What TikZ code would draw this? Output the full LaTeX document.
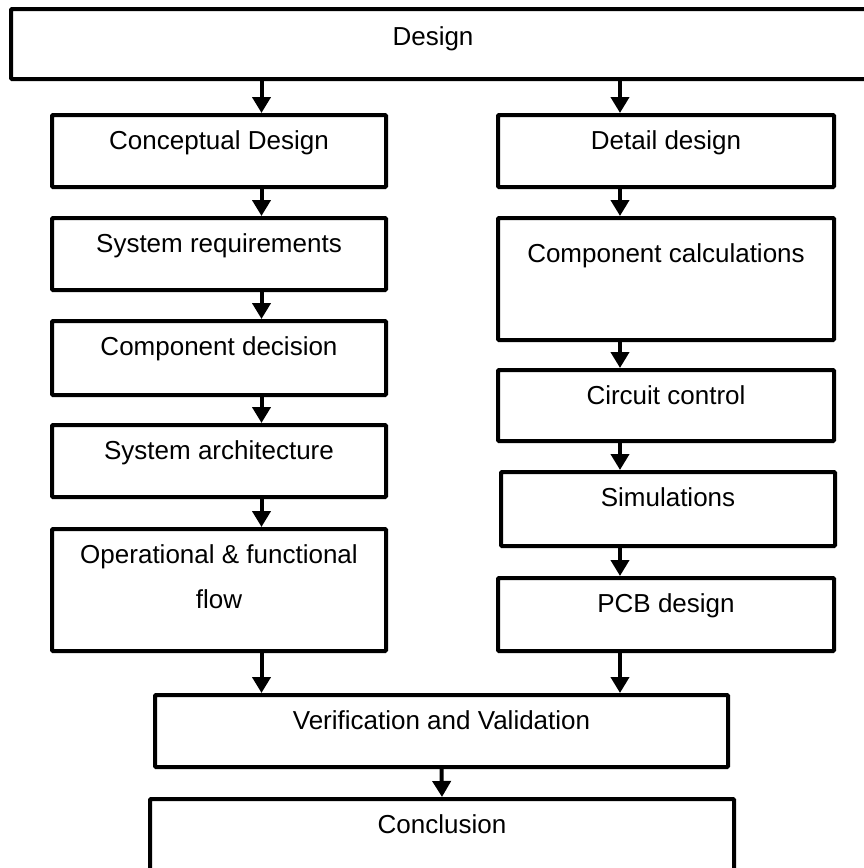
\documentclass[tikz,border=0pt]{standalone}
\usepackage{fontspec}
\setmainfont{Liberation Sans}
\usetikzlibrary{arrows.meta,calc}
\begin{document}
\begin{tikzpicture}[x=1pt,y=-1pt,
  box/.style={draw, line width=4pt, rounded corners=1pt, inner sep=0pt, minimum width=334pt, minimum height=72pt},
  lbl/.style={font=\fontsize{26}{45}\selectfont, anchor=base, inner sep=0pt, align=center},
  flow/.style={line width=4pt, -{Triangle[width=18pt,length=16pt]}},
]
\useasboundingbox (0,0) rectangle (864,868);
\clip (0,0) rectangle (864,868);
\fill[white] (0,0) rectangle (864,868);
\coordinate (xl) at (261.5,0);
\coordinate (xr) at (620,0);
% boxes
\node[box, minimum width=861pt, minimum height=70pt] (design) at (441.5,44) {};
\node[box] (concept) at (219,151) {};
\node[box] (sysreq) at (219,254) {};
\node[box, minimum height=74pt] (compdec) at (219,358) {};
\node[box] (sysarch) at (219,461) {};
\node[box, minimum height=122pt] (opflow) at (219,590) {};
\node[box, minimum width=336pt] (detail) at (666,151) {};
\node[box, minimum width=336pt, minimum height=122pt] (compcalc) at (666,279) {};
\node[box, minimum width=336pt, minimum height=71pt] (circuit) at (666,405.5) {};
\node[box, minimum height=74pt] (sim) at (668,509) {};
\node[box, minimum width=336pt, minimum height=73pt] (pcb) at (666,614.5) {};
\node[box, minimum width=573pt] (verif) at (441.5,731) {};
\node[box, minimum width=584pt, minimum height=91pt] (concl) at (442,844.5) {};
% labels
\node[lbl] (tdesign) at (433,45.5) {Design};
\node[lbl] (tconcept) at ([yshift=-36.5pt]concept.north) {Conceptual Design};
\node[lbl] (tsysreq) at ([yshift=-36.5pt]sysreq.north) {System requirements};
\node[lbl] (tcompdec) at ([yshift=-36.5pt]compdec.north) {Component decision};
\node[lbl] (tsysarch) at ([yshift=-36.5pt]sysarch.north) {System architecture};
\node[lbl] (topflow) at ([yshift=-81.5pt]opflow.north) {Operational \& functional\\flow};
\node[lbl] (tdetail) at ([yshift=-36.5pt]detail.north) {Detail design};
\node[lbl] (tcompcalc) at ([yshift=-46.5pt]compcalc.north) {Component calculations};
\node[lbl] (tcircuit) at ([yshift=-36.5pt]circuit.north) {Circuit control};
\node[lbl] (tsim) at ([yshift=-36.5pt]sim.north) {Simulations};
\node[lbl] (tpcb) at ([yshift=-36.5pt]pcb.north) {PCB design};
\node[lbl] (tverif) at ([yshift=-36.5pt]verif.north) {Verification and Validation};
\node[lbl] (tconcl) at ([yshift=-36.5pt]concl.north) {Conclusion};
% arrows
\draw[flow] (design.south -| xl) -- (concept.north -| xl);
\draw[flow] (concept.south -| xl) -- (sysreq.north -| xl);
\draw[flow] (sysreq.south -| xl) -- (compdec.north -| xl);
\draw[flow] (compdec.south -| xl) -- (sysarch.north -| xl);
\draw[flow] (sysarch.south -| xl) -- (opflow.north -| xl);
\draw[flow] (opflow.south -| xl) -- (verif.north -| xl);
\draw[flow] (design.south -| xr) -- (detail.north -| xr);
\draw[flow] (detail.south -| xr) -- (compcalc.north -| xr);
\draw[flow] (compcalc.south -| xr) -- (circuit.north -| xr);
\draw[flow] (circuit.south -| xr) -- (sim.north -| xr);
\draw[flow] (sim.south -| xr) -- (pcb.north -| xr);
\draw[flow] (pcb.south -| xr) -- (verif.north -| xr);
\draw[flow] (verif.south) -- (concl.north);
\end{tikzpicture}
\end{document}
